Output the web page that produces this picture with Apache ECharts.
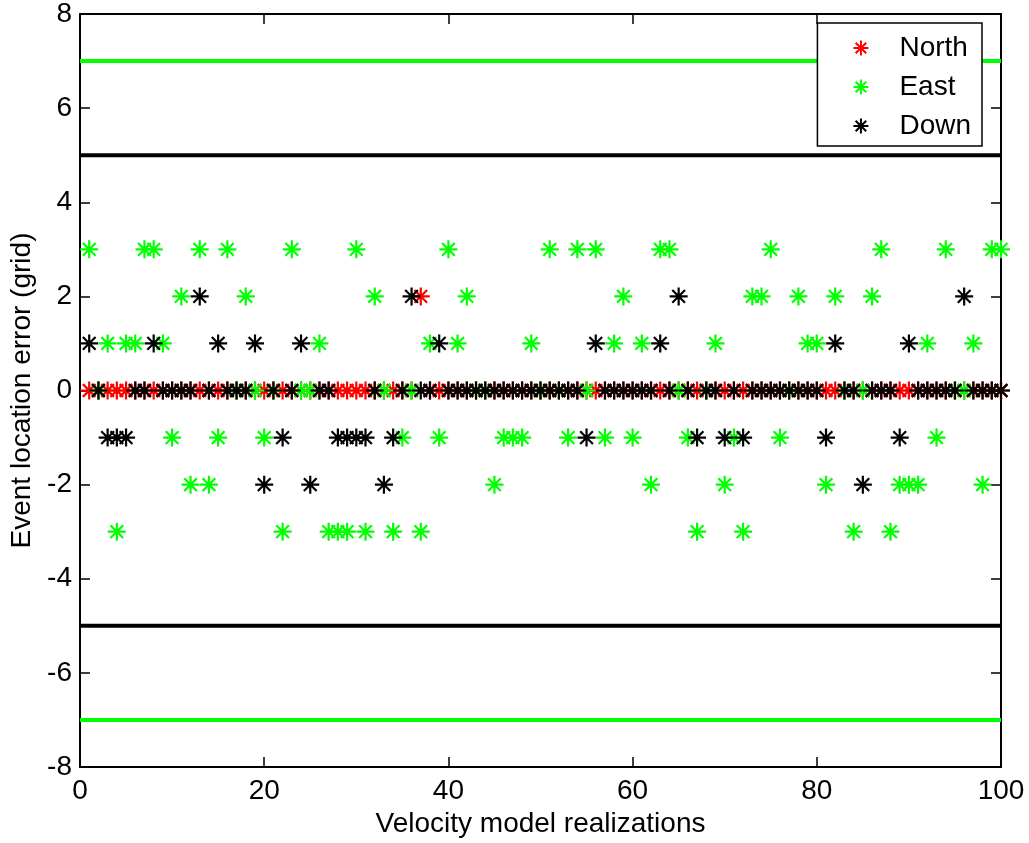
<!DOCTYPE html>
<html>
<head>
<meta charset="utf-8">
<script src="https://cdn.jsdelivr.net/npm/echarts@6/dist/echarts.min.js"></script>
<style>
html,body{margin:0;padding:0;background:#fff;}
#chart{width:1029px;height:843px;}
</style>
</head>
<body>
<div id="chart"></div>
<script>
// realization index 1..100
const realizations = [
  1,2,3,4,5,6,7,8,9,10,11,12,13,14,15,16,17,18,19,20,
  21,22,23,24,25,26,27,28,29,30,31,32,33,34,35,36,37,38,39,40,
  41,42,43,44,45,46,47,48,49,50,51,52,53,54,55,56,57,58,59,60,
  61,62,63,64,65,66,67,68,69,70,71,72,73,74,75,76,77,78,79,80,
  81,82,83,84,85,86,87,88,89,90,91,92,93,94,95,96,97,98,99,100
];
const northErr = [
  0,0,0,0,0,0,0,0,0,0, 0,0,0,0,0,0,0,0,0,0,
  0,0,0,0,0,0,0,0,0,0, 0,0,0,0,0,0,2,0,0,0,
  0,0,0,0,0,0,0,0,0,0, 0,0,0,0,0,0,0,0,0,0,
  0,0,0,0,0,0,0,0,0,0, 0,0,0,0,0,0,0,0,0,0,
  0,0,0,0,0,0,0,0,0,0, 0,0,0,0,0,0,0,0,0,0
];
const eastErr = [
  3,0,1,-3,1,1,3,3,1,-1,   2,-2,3,-2,-1,3,0,2,0,-1,
  0,-3,3,0,0,1,-3,-3,-3,3, -3,2,0,-3,-1,0,-3,1,-1,3,
  1,2,0,0,-2,-1,-1,-1,1,0, 3,0,-1,3,0,3,-1,1,2,-1,
  1,-2,3,3,0,-1,-3,0,1,-2, -1,-3,2,2,3,-1,0,2,1,1,
  -2,2,0,-3,0,2,3,-3,-2,-2, -2,1,-1,3,0,0,1,-2,3,3
];
const downErr = [
  1,0,-1,-1,-1,0,0,1,0,0,  0,0,2,0,1,0,0,0,1,-2,
  0,-1,0,1,-2,0,0,-1,-1,-1, -1,0,-2,-1,0,2,0,0,1,0,
  0,0,0,0,0,0,0,0,0,0,     0,0,0,0,-1,1,0,0,0,0,
  0,0,1,0,2,0,-1,0,0,-1,   0,-1,0,0,0,0,0,0,0,0,
  -1,1,0,0,-2,0,0,0,-1,1,  0,0,0,0,0,2,0,0,0,0
];
const greenLimits = [7, -7];
const blackLimits = [5, -5];
const xRange = [0, 100];
const yRange = [-8, 8];

const starPath = 'path://M10,0L10,20M0,10L20,10M2.93,2.93L17.07,17.07M2.93,17.07L17.07,2.93';

function pts(vals){ return realizations.map((x,i)=>[x, vals[i]]); }
function scatter(name, vals, col){
  return {
    name: name, type: 'scatter', data: pts(vals),
    symbol: starPath, symbolSize: 18,
    itemStyle: {color: 'rgba(0,0,0,0)', borderColor: col, borderWidth: 2.2, opacity: 1},
    emphasis: {disabled: true}, z: 3
  };
}
function hline(v, col){
  return {
    type: 'line', data: [[xRange[0], v],[xRange[1], v]], symbol: 'none',
    lineStyle: {color: col, width: 4}, silent: true, z: 2, animation: false
  };
}

const font = 'Liberation Sans, Arial, sans-serif';
const chart = echarts.init(document.getElementById('chart'), null, {renderer: 'canvas'});
const axisCommon = {
  axisLine: {show: true, onZero: false, lineStyle: {color: '#000', width: 2}},
  axisTick: {show: true, inside: true, length: 10, lineStyle: {color: '#000', width: 1.5}},
  splitLine: {show: false}
};
chart.setOption({
  animation: false,
  backgroundColor: '#fff',
  grid: {left: 80, top: 14, width: 921, height: 753, containLabel: false},
  xAxis: [
    Object.assign({type: 'value', min: xRange[0], max: xRange[1], interval: 20,
      name: 'Velocity model realizations', nameLocation: 'middle', nameGap: 32,
      nameTextStyle: {fontFamily: font, fontSize: 28, color: '#000'},
      axisLabel: {fontFamily: font, fontSize: 28, color: '#000', margin: 10, showMaxLabel: true, showMinLabel: true}}, axisCommon),
    Object.assign({type: 'value', position: 'top', min: xRange[0], max: xRange[1], interval: 20,
      axisLabel: {show: false}}, axisCommon)
  ],
  yAxis: [
    Object.assign({type: 'value', min: yRange[0], max: yRange[1], interval: 2,
      name: 'Event location error (grid)', nameLocation: 'middle', nameGap: 31,
      nameTextStyle: {fontFamily: font, fontSize: 28, color: '#000'},
      axisLabel: {fontFamily: font, fontSize: 28, color: '#000', margin: 8, showMaxLabel: true, showMinLabel: true}}, axisCommon),
    Object.assign({type: 'value', position: 'right', min: yRange[0], max: yRange[1], interval: 2,
      axisLabel: {show: false}}, axisCommon)
  ],
  legend: {
    data: ['North', 'East', 'Down'],
    orient: 'vertical', right: 47, top: 23,
    itemWidth: 15, itemHeight: 15, itemGap: 11,
    padding: [11, 11, 6, 35],
    backgroundColor: '#fff', borderColor: '#000', borderWidth: 1.5, borderRadius: 0,
    textStyle: {fontFamily: font, fontSize: 28, lineHeight: 28, color: '#000', padding: [0, 0, 0, 26]},
    selectedMode: false, z: 10
  },
  series: [
    hline(greenLimits[0], '#00ff00'), hline(greenLimits[1], '#00ff00'),
    hline(blackLimits[0], '#000000'), hline(blackLimits[1], '#000000'),
    scatter('North', northErr, '#ff0000'),
    scatter('East', eastErr, '#00ff00'),
    scatter('Down', downErr, '#000000')
  ]
});
</script>
</body>
</html>
